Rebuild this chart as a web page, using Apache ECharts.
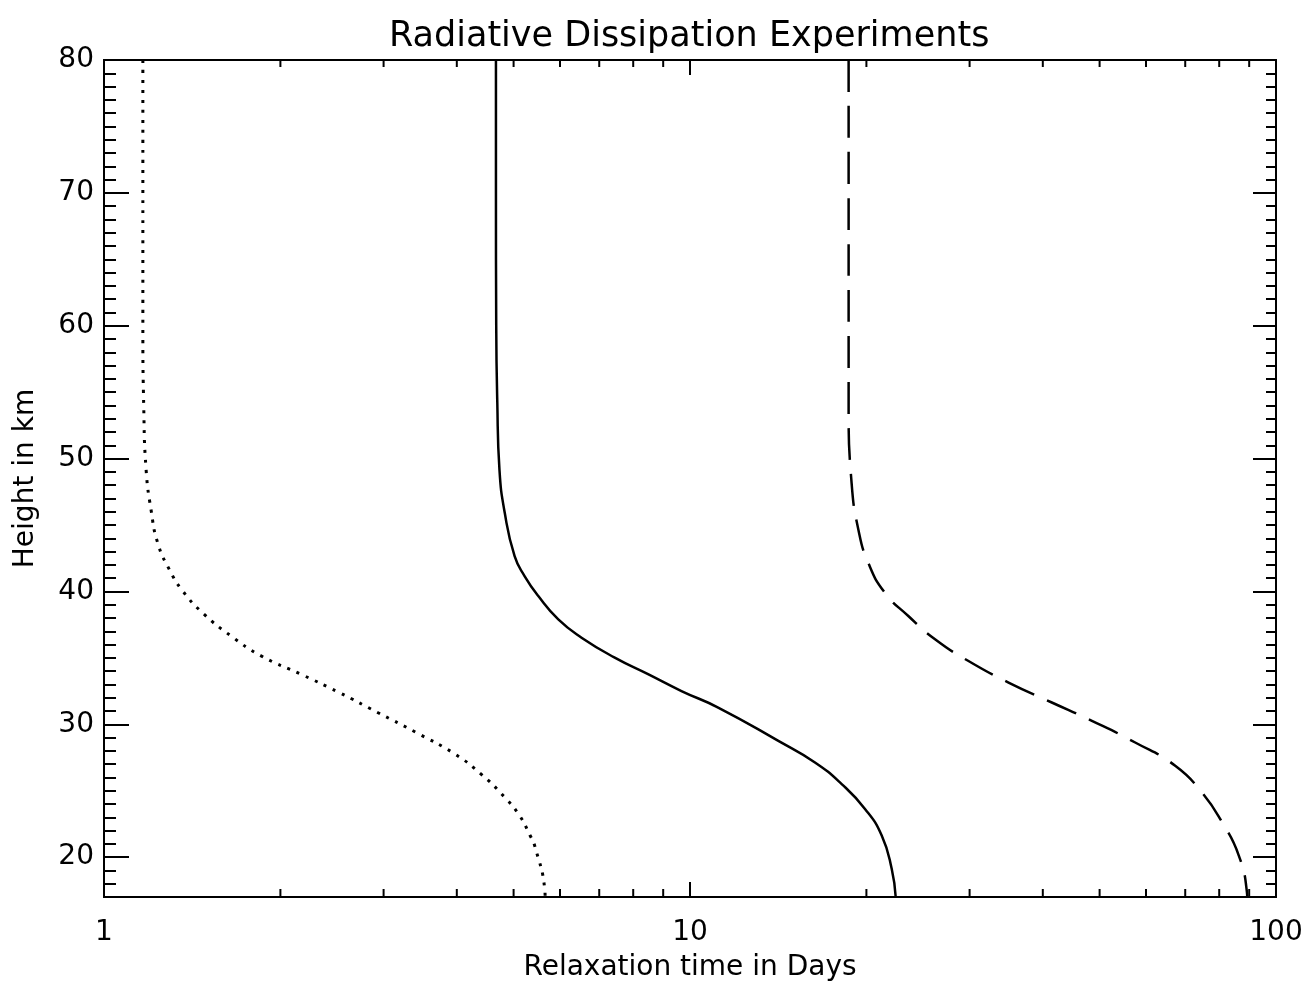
<!DOCTYPE html>
<html>
<head>
<meta charset="utf-8">
<script src="https://cdn.jsdelivr.net/npm/echarts@6/dist/echarts.min.js"></script>
<style>
html,body{margin:0;padding:0;background:#fff;}
#chart{width:1303px;height:981px;}
</style>
</head>
<body>
<div id="chart"></div>
<script>
// ---- data (relaxation time in days, height in km) ----
const dottedDays   = [1.165, 1.165, 1.165, 1.169, 1.18, 1.203, 1.235, 1.293, 1.363, 1.483, 1.648, 1.854, 2.17, 2.52, 2.93, 3.41, 3.97, 4.40, 4.83, 5.12, 5.33, 5.43, 5.65, 5.66];
const dottedHeight = [80, 70, 60, 53.9, 49.15, 46.15, 43.65, 41.64, 40.02, 38.27, 36.64, 35.15, 33.76, 32.39, 30.89, 29.38, 27.76, 26.25, 24.5, 23.12, 21.67, 20.88, 17.62, 17];

const solidDays   = [4.665, 4.665, 4.67, 4.69, 4.73, 4.83, 5.02, 5.22, 5.51, 5.96, 6.53, 7.44, 8.48, 9.67, 11.17, 14.15, 16.34, 18.15, 19.89, 21.24, 22.09, 22.44];
const solidHeight = [80, 70, 60, 54.2, 49.15, 45.9, 42.65, 41.16, 39.65, 37.89, 36.52, 35.02, 33.77, 32.5, 31.26, 28.75, 27.13, 25.5, 23.63, 21.63, 19.12, 17];

const dashedDays   = [18.65, 18.65, 18.65, 18.65, 18.87, 19.38, 20.15, 21.51, 23.58, 26.19, 29.87, 34.96, 41.44, 48.51, 57.5, 67.3, 74.7, 80.9, 86.4, 89.2, 89.3];
const dashedHeight = [80, 70, 60, 53.91, 48.15, 44.65, 42.15, 39.9, 38.15, 36.4, 34.76, 33.14, 31.64, 30.26, 28.63, 26.88, 24.88, 22.63, 20.12, 17.37, 17];

const xMin = 1, xMax = 100;
const yMin = 17, yMax = 80;
const yMajorTicks = [20, 30, 40, 50, 60, 70, 80];
const yMinorTicks = [18, 19, 21, 22, 23, 24, 25, 26, 27, 28, 29, 31, 32, 33, 34, 35, 36, 37, 38, 39,
                     41, 42, 43, 44, 45, 46, 47, 48, 49, 51, 52, 53, 54, 55, 56, 57, 58, 59,
                     61, 62, 63, 64, 65, 66, 67, 68, 69, 71, 72, 73, 74, 75, 76, 77, 78, 79];
const xMinorTicks = [2, 3, 4, 5, 6, 7, 8, 9, 20, 30, 40, 50, 60, 70, 80, 90];

const titleText = 'Radiative Dissipation Experiments';
const xName = 'Relaxation time in Days';
const yName = 'Height in km';

// ---- build ----
function pairs(xs, ys) { return xs.map((x, i) => [x, ys[i]]); }

const FONT = 'DejaVu Sans';
const BLACK = '#000';

const chart = echarts.init(document.getElementById('chart'), null, {renderer: 'canvas'});

const lineAxis = {show: true, lineStyle: {color: BLACK, width: 2}};

function yAx(pos, ticks, len, labels) {
  return {
    type: 'value', min: yMin, max: yMax, position: pos, offset: 0,
    axisLine: lineAxis,
    axisTick: {show: true, inside: true, length: len, customValues: ticks, lineStyle: {color: BLACK, width: 2}},
    axisLabel: labels ? {show: true, customValues: ticks, fontFamily: FONT, fontSize: 28, color: BLACK, margin: 10} : {show: false},
    splitLine: {show: false},
    name: labels ? yName : '',
    nameLocation: 'middle', nameGap: 64,
    nameTextStyle: {fontFamily: FONT, fontSize: 28, color: BLACK}
  };
}

const option = {
  backgroundColor: '#fff',
  animation: false,
  title: {
    text: titleText, left: 389, top: 19, padding: 0,
    textStyle: {fontFamily: FONT, fontSize: 35, fontWeight: 'normal', color: BLACK}
  },
  grid: {left: 104, right: 27, top: 60, bottom: 84, containLabel: false, outerBoundsMode: 'none'},
  xAxis: [
    {
      type: 'log', logBase: 10, min: xMin, max: xMax, position: 'bottom',
      axisLine: lineAxis,
      axisTick: {show: true, inside: true, length: 15, lineStyle: {color: BLACK, width: 2}},
      axisLabel: {show: true, fontFamily: FONT, fontSize: 28, color: BLACK, margin: 22},
      splitLine: {show: false}, minorTick: {show: false},
      name: xName, nameLocation: 'middle', nameGap: 57,
      nameTextStyle: {fontFamily: FONT, fontSize: 28, color: BLACK}
    },
    {
      type: 'log', logBase: 10, min: xMin, max: xMax, position: 'top',
      axisLine: lineAxis,
      axisTick: {show: true, inside: true, length: 15, lineStyle: {color: BLACK, width: 2}},
      axisLabel: {show: false}, splitLine: {show: false}
    }
  ],
  yAxis: [
    yAx('left', yMajorTicks, 25, true),
    yAx('left', yMinorTicks, 12, false),
    yAx('right', yMajorTicks, 23, false),
    yAx('right', yMinorTicks, 10, false)
  ],
  series: [
    {
      type: 'custom', xAxisIndex: 0, yAxisIndex: 0, silent: true, clip: false,
      data: xMinorTicks,
      renderItem: function (params, api) {
        const v = api.value(0);
        const b = api.coord([v, yMin]);
        const t = api.coord([v, yMax]);
        const st = {stroke: BLACK, lineWidth: 2};
        return {
          type: 'group',
          children: [
            {type: 'line', shape: {x1: b[0], y1: b[1], x2: b[0], y2: b[1] - 8}, style: st},
            {type: 'line', shape: {x1: t[0], y1: t[1], x2: t[0], y2: t[1] + 7}, style: st}
          ]
        };
      }
    },
    {
      type: 'line', xAxisIndex: 0, yAxisIndex: 0, data: pairs(dottedDays, dottedHeight),
      showSymbol: false, smooth: 0.5,
      lineStyle: {color: BLACK, width: 3, type: [3, 7]}
    },
    {
      type: 'line', xAxisIndex: 0, yAxisIndex: 0, data: pairs(solidDays, solidHeight),
      showSymbol: false, smooth: 0.5,
      lineStyle: {color: BLACK, width: 2.5, type: 'solid'}
    },
    {
      type: 'line', xAxisIndex: 0, yAxisIndex: 0, data: pairs(dashedDays, dashedHeight),
      showSymbol: false, smooth: 0.5,
      lineStyle: {color: BLACK, width: 2.5, type: [32, 14]}
    }
  ]
};

chart.setOption(option);
</script>
</body>
</html>
